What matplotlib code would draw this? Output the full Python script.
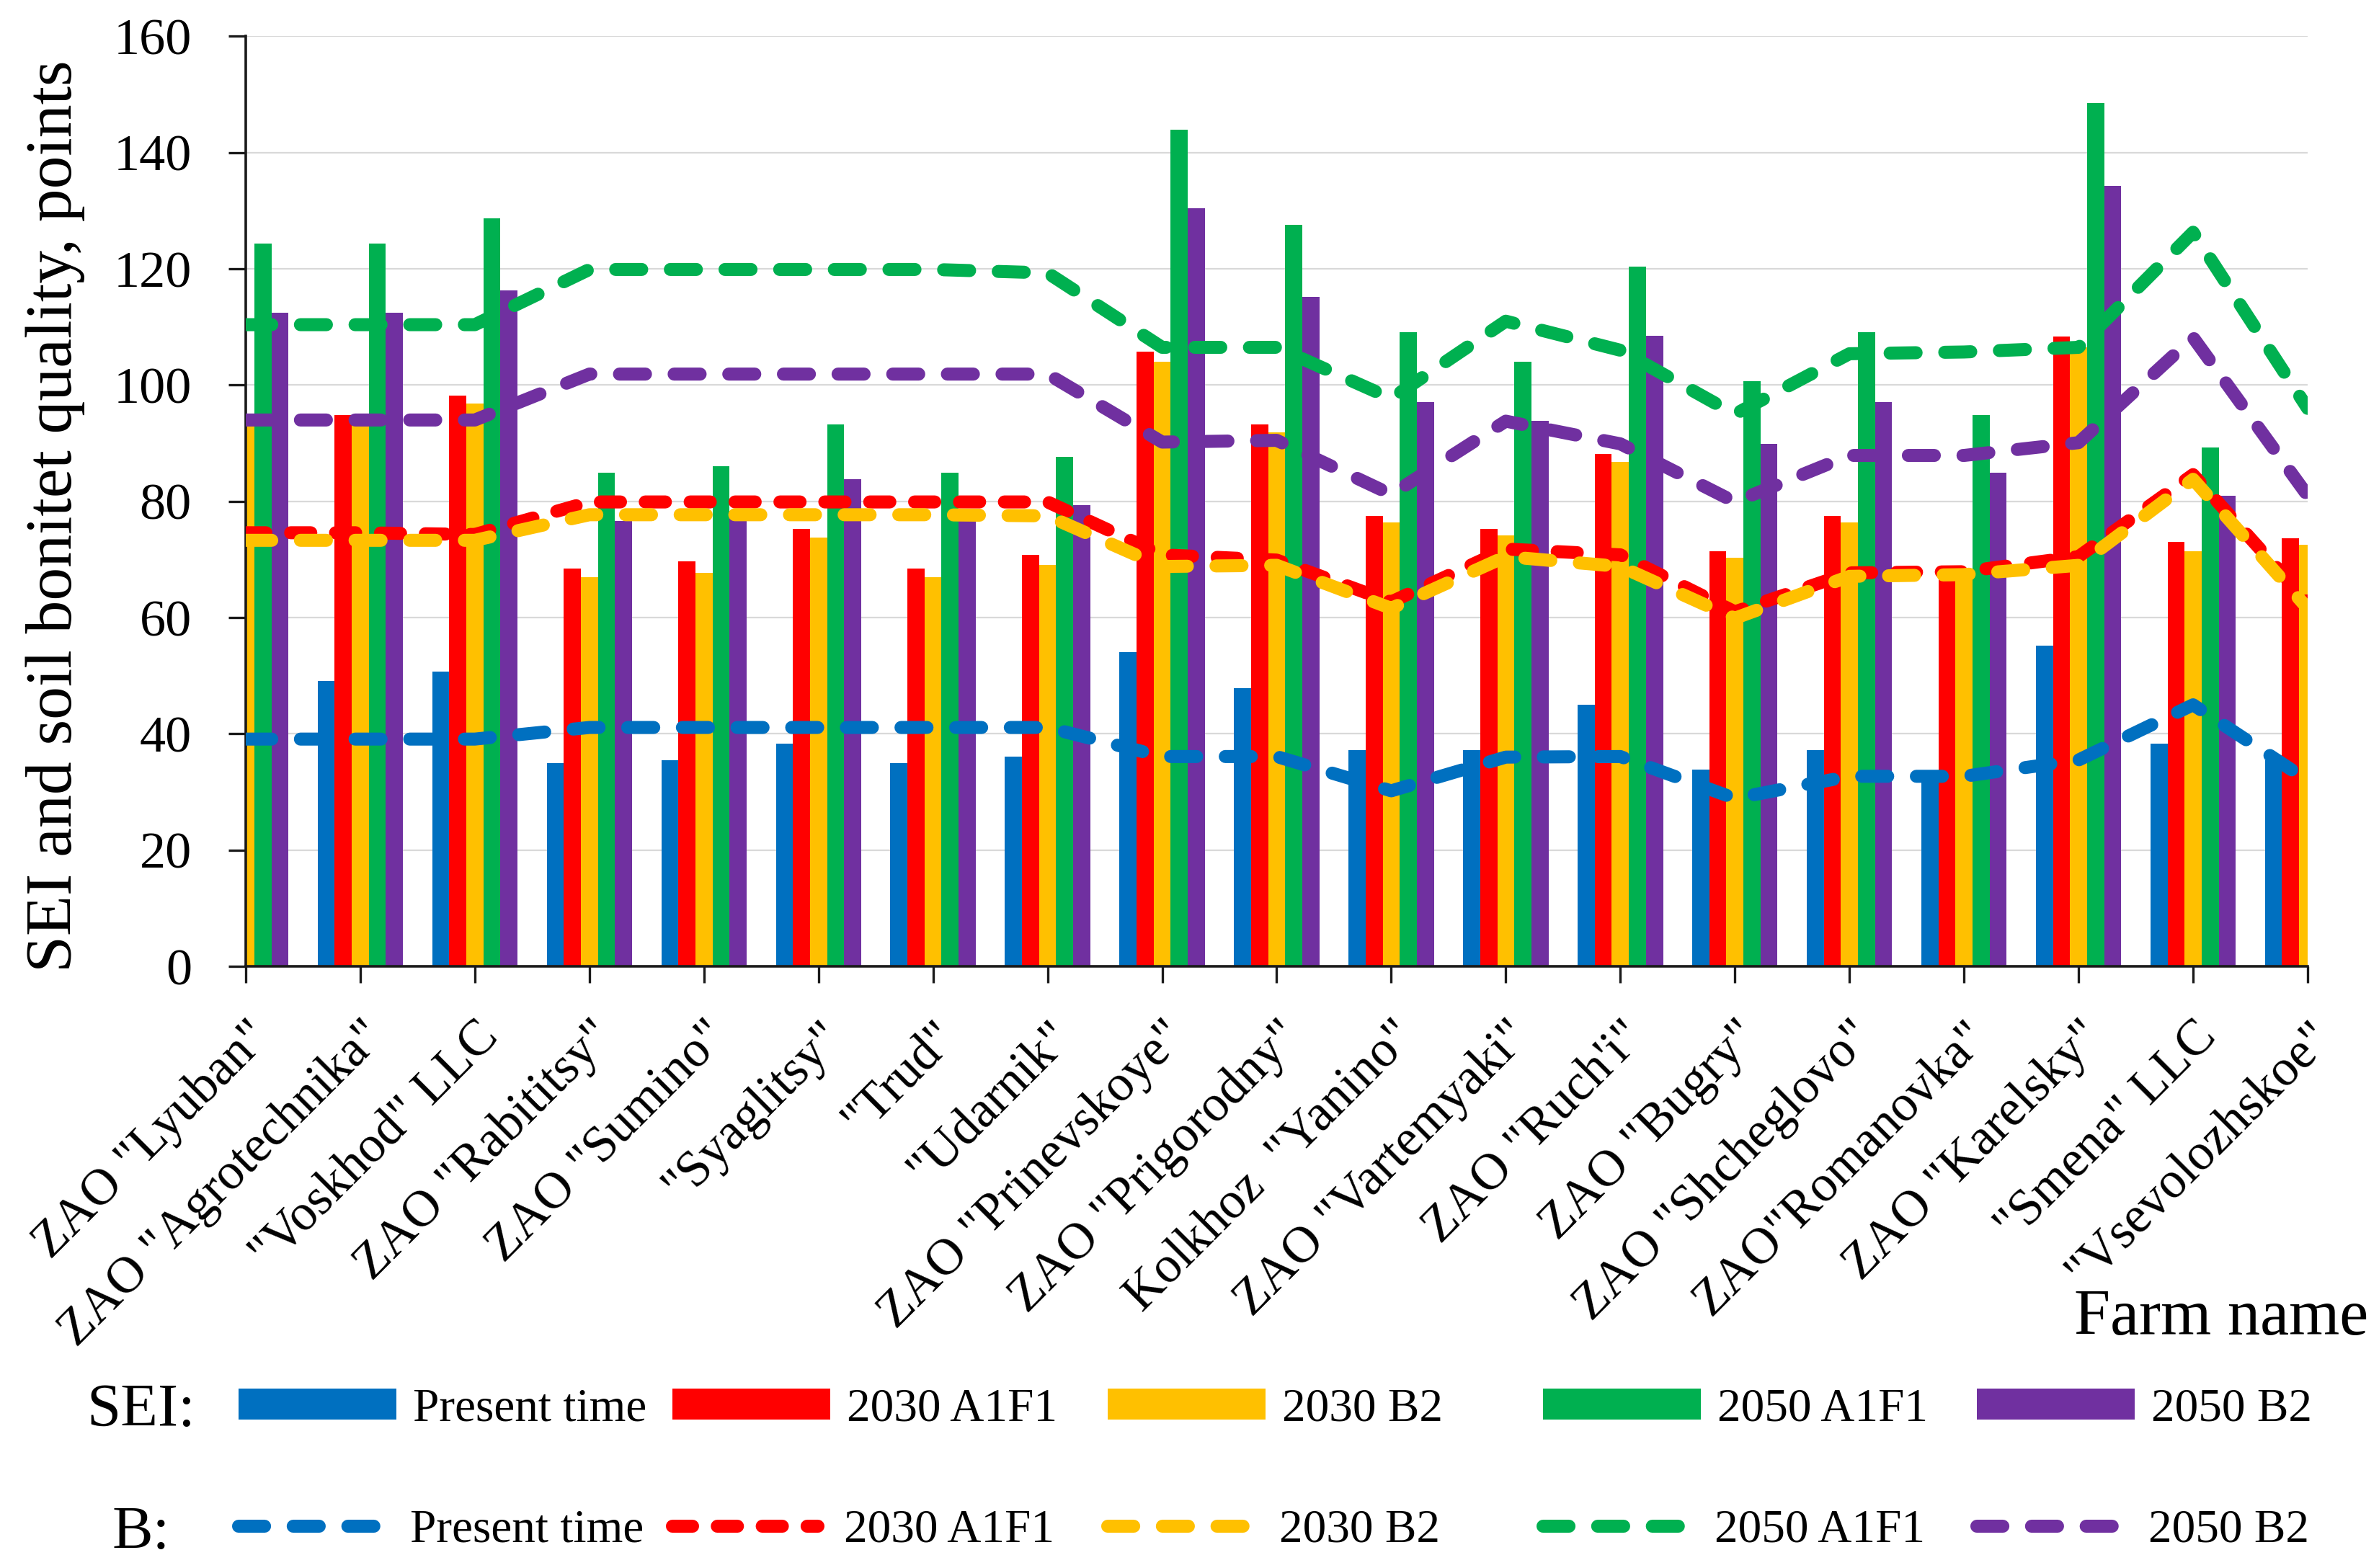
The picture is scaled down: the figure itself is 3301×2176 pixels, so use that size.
import matplotlib
matplotlib.use('Agg')
import matplotlib.pyplot as plt
from matplotlib.patches import Patch
from matplotlib.lines import Line2D
import numpy as np

plt.rcParams['font.family'] = ['Liberation Serif', 'DejaVu Serif']

# Farms (x axis categories)
farms = ['ZAO "Lyuban"', 'ZAO "Agrotechnika"', '"Voskhod" LLC', 'ZAO "Rabititsy"',
         'ZAO "Sumino"', '"Syaglitsy"', '"Trud"', '"Udarnik"', 'ZAO "Prinevskoye"',
         'ZAO "Prigorodny"', 'Kolkhoz  "Yanino"', 'ZAO "Vartemyaki"', 'ZAO "Ruch\'i"',
         'ZAO "Bugry"', 'ZAO "Shcheglovo"', 'ZAO"Romanovka"', 'ZAO "Karelsky"',
         '"Smena" LLC', '"Vsevolozhskoe"']

scenarios = ['Present time', '2030 A1F1', '2030 B2', '2050 A1F1', '2050 B2']
colors = ['#0070C0', '#FF0000', '#FFC000', '#00B050', '#7030A0']

# SEI (bars)
sei_present = [49.1, 49.1, 50.7, 35.0, 35.5, 38.3, 35.0, 36.1, 54.1, 47.9, 37.2, 37.2, 45.0, 33.9, 37.2, 33.3, 55.2, 38.3, 35.5]
sei_2030_a1f1 = [94.9, 94.9, 98.2, 68.5, 69.7, 75.2, 68.5, 70.8, 105.7, 93.2, 77.5, 75.2, 88.2, 71.4, 77.5, 66.8, 108.4, 73.0, 73.6]
sei_2030_b2 = [93.8, 93.8, 96.8, 66.9, 67.7, 73.8, 66.9, 69.1, 104.0, 91.9, 76.4, 74.1, 86.8, 70.3, 76.4, 66.6, 106.5, 71.4, 72.5]
sei_2050_a1f1 = [124.3, 124.3, 128.7, 84.9, 86.0, 93.2, 84.9, 87.7, 144.0, 127.6, 109.1, 104.0, 120.4, 100.7, 109.1, 94.9, 148.5, 89.3, 91.0]
sei_2050_b2 = [112.4, 112.4, 116.3, 76.6, 77.7, 83.8, 76.6, 79.4, 130.4, 115.2, 97.1, 93.8, 108.5, 89.9, 97.1, 84.9, 134.3, 81.0, 82.0]

# B - soil bonitet (dashed lines)
b_present = [39.1, 39.1, 39.1, 41.1, 41.1, 41.1, 41.1, 41.1, 36.1, 36.1, 30.2, 36.0, 36.1, 28.9, 32.7, 32.7, 35.5, 45.0, 32.0]
b_2030_a1f1 = [74.6, 74.6, 74.3, 79.9, 79.9, 79.9, 79.9, 79.9, 70.8, 69.9, 62.7, 71.8, 70.8, 61.0, 67.7, 67.9, 70.5, 84.6, 62.7]
b_2030_b2 = [73.3, 73.3, 73.3, 77.7, 77.7, 77.7, 77.7, 77.5, 68.8, 69.0, 61.6, 70.5, 68.8, 59.9, 67.1, 67.4, 69.0, 83.8, 61.6]
b_2050_a1f1 = [110.4, 110.4, 110.4, 119.9, 119.9, 119.9, 119.9, 119.3, 106.5, 106.5, 97.7, 111.0, 106.0, 95.0, 105.4, 105.7, 106.5, 126.3, 96.0]
b_2050_b2 = [94.0, 94.0, 94.0, 101.9, 101.9, 101.9, 101.9, 101.9, 90.2, 90.5, 81.2, 93.8, 89.9, 79.9, 87.9, 87.9, 90.1, 108.2, 81.0]

sei = [sei_present, sei_2030_a1f1, sei_2030_b2, sei_2050_a1f1, sei_2050_b2]
bon = [b_present, b_2030_a1f1, b_2030_b2, b_2050_a1f1, b_2050_b2]

# dash patterns (in line widths), red one is shorter
dashes = [(2.0, 2.2), (1.55, 1.9), (2.0, 2.2), (2.0, 2.2), (2.0, 2.2)]
lw = 13

fig = plt.figure(figsize=(33.01, 21.76), dpi=100)
ax = fig.add_axes([0.1033, 0.3837, 0.8667, 0.5931])

x = np.arange(len(farms))
w = 0.149
for i in range(5):
    ax.bar(x + (i - 2) * w, sei[i], width=w, color=colors[i], zorder=2)

for i in range(5):
    ax.plot(x, bon[i], color=colors[i], lw=lw, linestyle=(0, dashes[i]),
            dash_capstyle='round', solid_joinstyle='round', zorder=3)

ax.set_xlim(0, 18)
ax.set_ylim(0, 160)
ax.set_yticks(range(0, 161, 20))
ax.set_xticks(x)
ax.set_xticklabels(farms, rotation=45, ha='right', va='top', rotation_mode='anchor')

ax.yaxis.grid(True, color='#D9D9D9', lw=1.6)
ax.set_axisbelow(True)
for s in ['top', 'right']:
    ax.spines[s].set_visible(False)
for s in ['left', 'bottom']:
    ax.spines[s].set_linewidth(2.6)
    ax.spines[s].set_color('#1a1a1a')
ax.tick_params(axis='y', length=17, width=2.4, pad=37, labelsize=52, color='#1a1a1a')
ax.tick_params(axis='x', length=16.5, width=2.4, pad=30, labelsize=51, color='#1a1a1a')

fig.text(77 / 3301, 1 - 716 / 2176, 'SEI and soil bonitet quality, points',
         rotation=90, ha='center', va='center', fontsize=66)
fig.text(0.9955, 0.149, 'Farm name', ha='right', va='baseline', fontsize=65)

# Legend: two rows, each entry placed separately
fig.text(196 / 3301, 0.0905, 'SEI:', ha='center', va='baseline', fontsize=61)
fig.text(196 / 3301, 0.0125, 'B:', ha='center', va='baseline', fontsize=61)
x_starts = [331, 933, 1537, 2141, 2743]
for i in range(5):
    h1 = Patch(facecolor=colors[i])
    fig.legend(handles=[h1], labels=[scenarios[i]], loc='center left',
               bbox_to_anchor=(x_starts[i] / 3301, 0.1011), frameon=False,
               borderpad=0, borderaxespad=0, handlelength=3.35, handleheight=0.63,
               handletextpad=0.35, fontsize=47)
    h2 = Line2D([], [], color=colors[i], lw=lw, linestyle=(0, dashes[i]),
                dash_capstyle='round')
    fig.legend(handles=[h2], labels=[scenarios[i]], loc='center left',
               bbox_to_anchor=(x_starts[i] / 3301, 0.0239), frameon=False,
               borderpad=0, borderaxespad=0, handlelength=3.1, handleheight=0.63,
               handletextpad=0.55, fontsize=47)

fig.savefig('out.png', dpi=100)
